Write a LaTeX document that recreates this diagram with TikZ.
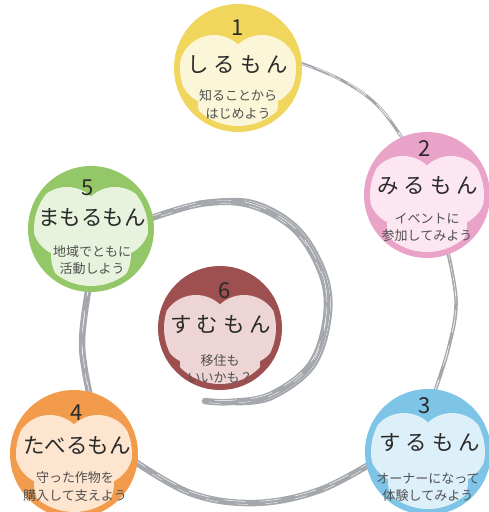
\documentclass[tikz,border=0pt]{standalone}
\usepackage{fontspec}
\newfontfamily\jp{Noto Sans CJK JP}
\definecolor{spir}{HTML}{A4A7AC}
\definecolor{yO}{HTML}{F0D65C}\definecolor{yI}{HTML}{FBF6D8}
\definecolor{pO}{HTML}{E9A3C8}\definecolor{pI}{HTML}{FCE6F1}
\definecolor{bO}{HTML}{7DC4E7}\definecolor{bI}{HTML}{DDF0FA}
\definecolor{oO}{HTML}{F29B4C}\definecolor{oI}{HTML}{FDE5D0}
\definecolor{gO}{HTML}{94C768}\definecolor{gI}{HTML}{E7F3DC}
\definecolor{rO}{HTML}{9E4F4F}\definecolor{rI}{HTML}{EDD5D5}
\definecolor{colTitle}{HTML}{2A2A2A}
\definecolor{colSub}{HTML}{505050}
\newcommand\ks{\hspace{5pt}}
% #1 name, #2 cx, #3 cy, #4 R, #5 title y, #6 outer, #7 inner
\newcommand\badge[7]{%
  \node[circle, fill=#6, minimum size=#4*2pt, inner sep=0pt] (#1) at (#2,#3) {};
  \begin{scope}
    \clip (#2,#3) circle[radius=#4pt-6pt];
    \fill[#7] (#2-24,#5+5) circle[radius=35pt] (#2+24,#5+5) circle[radius=35pt] (#2,#5+38) circle[radius=40pt];
  \end{scope}}
\newcommand\brush[2]{%
  \draw[spir, line width=#1, line cap=round] plot[smooth, tension=0.6] coordinates {#2};
  \draw[white, line width=0.45pt, dash pattern=on 22pt off 14pt, transform canvas={shift={(0pt,0.25*#1)}}] plot[smooth, tension=0.6] coordinates {#2};
  \draw[white, line width=0.35pt, dash pattern=on 12pt off 18pt, dash phase=8pt, transform canvas={shift={(0pt,-0.2*#1)}}] plot[smooth, tension=0.6] coordinates {#2};
}
\begin{document}
\begin{tikzpicture}[x=1pt,y=-1pt,
  ttl/.style={font=\jp\fontsize{21.5}{21.5}\selectfont, text=colTitle, inner sep=0pt},
  num/.style={font=\jp\fontsize{22}{22}\selectfont, text=colTitle, inner sep=0pt},
  sub/.style={font=\jp\fontsize{13}{17.5}\selectfont, text=colSub, align=center, inner sep=0pt}]
\useasboundingbox (0,0) rectangle (488,512);
% spiral
\brush{3pt}{(280,62) (300,63) (345,82) (380,108) (410,150)}
\brush{3.5pt}{(445,240) (456,300) (448,350) (430,405)}
\brush{6.5pt}{(380,458) (320,490) (255,503) (190,493) (125,455)}
\brush{6.5pt}{(92,405) (82,345) (90,280)}
\brush{6.5pt}{(140,222) (200,204) (250,205) (295,230) (322,275) (326,318) (310,365) (270,395) (230,402) (205,401)}
\begin{scope}[scale around={1.045:(225,305)}]
  \draw[spir, line width=2pt, line cap=round] plot[smooth, tension=0.6] coordinates {(200,206) (250,205) (295,230) (322,275) (326,318) (310,365) (270,395) (235,400)};
\end{scope}
% badges
\badge{c1}{238}{68}{64}{65}{yO}{yI}
\badge{c2}{427}{195}{63}{186}{pO}{pI}
\badge{c3}{428}{452}{63}{443}{bO}{bI}
\badge{c4}{74}{454}{64}{445}{oO}{oI}
\badge{c5}{91}{229}{63}{217}{gO}{gI}
\badge{c6}{220}{328}{62}{325}{rO}{rI}
% texts
\node[num] (n1) at (238,28) {1};
\node[ttl] (t1) at (238,65) {し\ks る\ks も\ks ん};
\node[sub] (s1) at (238,104.5) {知ることから\\はじめよう};
\node[num] (n2) at (425,149) {2};
\node[ttl] (t2) at (428,186) {み\ks る\ks も\ks ん};
\node[sub] (s2) at (427,227.5) {イベントに\\参加してみよう};
\node[num] (n3) at (425,406) {3};
\node[ttl] (t3) at (430,443) {す\ks る\ks も\ks ん};
\node[sub] (s3) at (428,487.5) {オーナーになって\\体験してみよう};
\node[num] (n4) at (77,413) {4};
\node[ttl] (t4) at (77,445) {たべるもん};
\node[sub] (s4) at (75,486.5) {守った作物を\\購入して支えよう};
\node[num] (n5) at (88,188) {5};
\node[ttl] (t5) at (92,217) {まもるもん};
\node[sub] (s5) at (92,260) {地域でともに\\活動しよう};
\node[num] (n6) at (225,291) {6};
\node[ttl] (t6) at (221,325) {す\ks む\ks も\ks ん};
\node[sub] (s6) at (220,369) {移住も\\いいかも？};
\end{tikzpicture}
\end{document}
